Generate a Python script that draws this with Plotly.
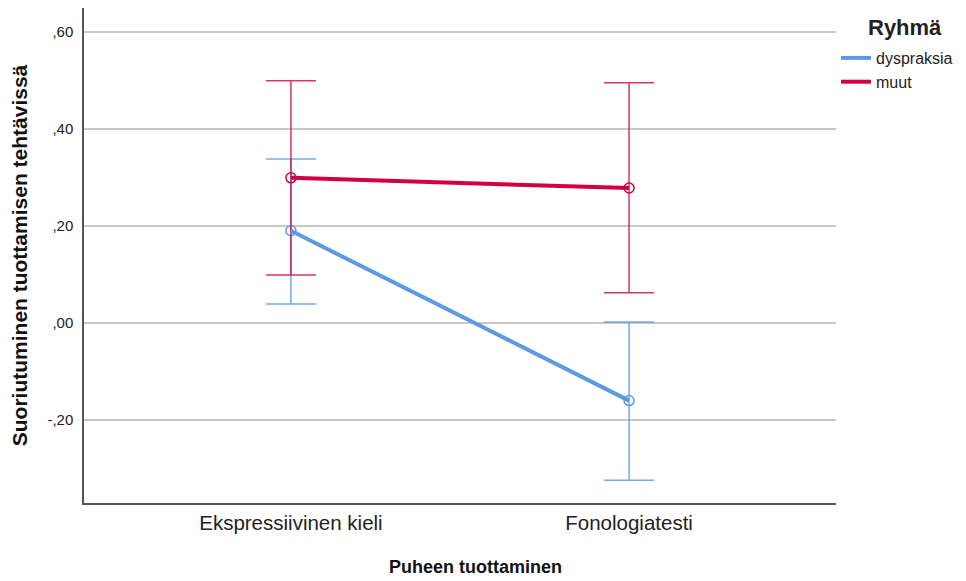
import plotly.graph_objects as go

categories = ["Ekspressiivinen kieli", "Fonologiatesti"]
groups = ["dyspraksia", "muut"]
dysp_mean = [0.190, -0.160]
dysp_upper = [0.338, 0.002]
dysp_lower = [0.039, -0.324]
muut_mean = [0.299, 0.278]
muut_upper = [0.499, 0.495]
muut_lower = [0.099, 0.062]
y_ticks = [-0.20, 0.00, 0.20, 0.40, 0.60]
y_ticktext = ["-,20", ",00", ",20", ",40", ",60"]

colors = {"dyspraksia": "#5B9BE6", "muut": "#D2003F"}
bar_colors = {"dyspraksia": "rgba(91,155,230,0.85)", "muut": "rgba(210,0,63,0.8)"}

fig = go.Figure()
x_idx = list(range(len(categories)))
series = [("dyspraksia", dysp_mean, dysp_upper, dysp_lower),
          ("muut", muut_mean, muut_upper, muut_lower)]
# error bars + markers (no legend)
for name, mean, up, lo in series:
    fig.add_trace(go.Scatter(
        x=x_idx, y=mean, name=name, mode="markers", showlegend=False,
        marker=dict(symbol="circle-open", size=10, color=colors[name], line=dict(width=1.5)),
        error_y=dict(type="data", symmetric=False,
                     array=[u - m for u, m in zip(up, mean)],
                     arrayminus=[m - l for m, l in zip(mean, lo)],
                     color=bar_colors[name], thickness=1.5, width=25),
    ))
# lines (legend entries)
for name, mean, up, lo in series:
    fig.add_trace(go.Scatter(
        x=x_idx, y=mean, name=name, mode="lines",
        line=dict(color=colors[name], width=4),
    ))

# plot area in page pixels: x 84..836, y 8..503
def px_x(x):
    return (x - 84) / 752

def px_y(y):
    return (503 - y) / 495

fig.add_annotation(
    text="<b>Ryhmä</b>", xref="paper", yref="paper",
    x=px_x(866), y=px_y(27), xanchor="left", yanchor="middle",
    showarrow=False, font=dict(size=22, color="#222"),
)
fig.add_annotation(
    text="<b>Puheen tuottaminen</b>", xref="paper", yref="paper",
    x=px_x(475), y=px_y(567), xanchor="center", yanchor="middle",
    showarrow=False, font=dict(size=18, color="#111"),
)

fig.update_layout(
    width=958, height=573,
    margin=dict(l=76, r=130, t=0, b=78),
    paper_bgcolor="white", plot_bgcolor="white",
    font=dict(family="Arial, Liberation Sans, sans-serif", color="#222"),
    showlegend=True,
    legend=dict(
        x=px_x(836), y=px_y(41), xanchor="left", yanchor="top",
        font=dict(size=16, color="#222"), tracegroupgap=0,
        bgcolor="rgba(0,0,0,0)", itemwidth=30,
    ),
    xaxis=dict(
        range=[-0.612, 1.612], tickvals=x_idx, ticktext=categories,
        showgrid=False, zeroline=False, showline=True, linecolor="#555", linewidth=1.5,
        ticks="outside", ticklen=1, tickcolor="rgba(0,0,0,0)",
        tickfont=dict(size=20.5, color="#222"),
    ),
    yaxis=dict(
        range=[-0.371, 0.649], tickvals=y_ticks, ticktext=y_ticktext,
        showgrid=True, gridcolor="#C8C8C8", gridwidth=1.5, zeroline=False,
        showline=True, linecolor="#555", linewidth=1.5,
        ticks="outside", ticklen=6, tickcolor="rgba(0,0,0,0)",
        tickfont=dict(size=15, color="#222"),
        title=dict(text="<b>Suoriutuminen tuottamisen tehtävissä</b>", font=dict(size=21, color="#111"), standoff=18),
    ),
)

fig.write_html("out.html")
